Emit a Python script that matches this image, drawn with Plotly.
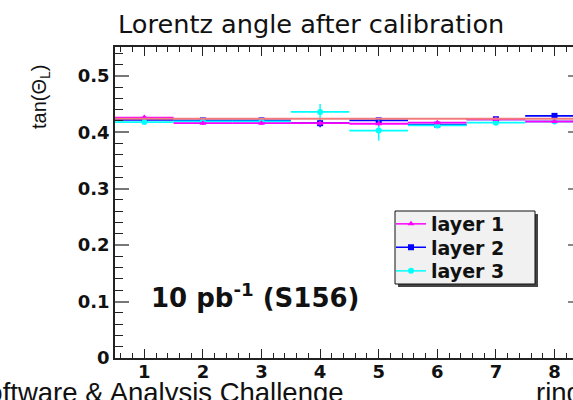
import plotly.graph_objects as go

# Lorentz angle per ring, one series per layer
RINGS = [1, 2, 3, 4, 5, 6, 7, 8]
LAYER1 = [0.426, 0.416, 0.416, 0.416, 0.415, 0.417, 0.423, 0.419]
LAYER1_ERR = [0.003, 0.003, 0.003, 0.004, 0.003, 0.003, 0.003, 0.003]
LAYER2 = [0.422, 0.421, 0.421, 0.416, 0.421, 0.4135, 0.423, 0.429]
LAYER2_ERR = [0.003, 0.003, 0.003, 0.007, 0.003, 0.003, 0.003, 0.003]
LAYER3 = [0.418, 0.419, 0.419, 0.436, 0.403, 0.412, 0.417, 0.419]
LAYER3_ERR = [0.003, 0.003, 0.003, 0.014, 0.018, 0.005, 0.003, 0.003]
BIN_HALF_WIDTH = 0.5
FIT_VALUE = 0.424
TICKS_Y = [0.0, 0.1, 0.2, 0.3, 0.4, 0.5]
TICK_TEXT_Y = ["0", "0.1", "0.2", "0.3", "0.4", "0.5"]

W, H = 573, 400
ML, MR, MT, MB = 115, 0, 47, 42
PW, PH = W - ML - MR, H - MT - MB


def fx(p):
    return (p - ML) / PW


def fy(p):
    return (H - MB - p) / PH


def gapped(values):
    # isolate each point so no connecting line is drawn between rings
    out = []
    for i, v in enumerate(values):
        if i:
            out.append(None)
        out.append(v)
    return out


fig = go.Figure()

# constant fit across all rings (on the mirrored right axis)
fig.add_trace(go.Scatter(
    x=[0.5, 8.5], y=[FIT_VALUE, FIT_VALUE], yaxis="y2", mode="lines",
    line=dict(color="#f27c7c", width=2), showlegend=False, hoverinfo="skip"))

# drawing order: layer 2, layer 3, layer 1 on top; each has its own legend row
layers = [
    ("layer 2", LAYER2, LAYER2_ERR, "#0000ff", "square", "legend2"),
    ("layer 3", LAYER3, LAYER3_ERR, "#00ffff", "circle", "legend3"),
    ("layer 1", LAYER1, LAYER1_ERR, "#ff00ff", "triangle-up", "legend"),
]
for name, vals, errs, color, symbol, leg in layers:
    fig.add_trace(go.Scatter(
        x=gapped(RINGS), y=gapped(vals), name=name, legend=leg,
        mode="lines+markers", connectgaps=False,
        line=dict(color=color, width=1.5),
        marker=dict(color=color, symbol=symbol, size=6),
        error_x=dict(type="constant", value=BIN_HALF_WIDTH, color=color,
                     thickness=1.8, width=0),
        error_y=dict(type="data", array=gapped(errs), color=color,
                     thickness=1.5, width=0),
    ))

tick_font = dict(family="DejaVu Sans", size=18, color="#111", weight="bold")
legend_font = dict(family="DejaVu Sans", size=19, color="#111", weight="bold")


def legend_row(center_y):
    return dict(x=fx(391), y=fy(center_y), xanchor="left", yanchor="middle",
                bgcolor="rgba(0,0,0,0)", borderwidth=0, font=legend_font)


fig.update_layout(
    width=W, height=H,
    margin=dict(l=ML, r=MR, t=MT, b=MB, pad=0),
    paper_bgcolor="white", plot_bgcolor="white",
    xaxis=dict(
        range=[0.5, 0.5 + PW / 58.6], showgrid=False, zeroline=False,
        showline=True, linecolor="#222", linewidth=1.5, mirror="ticks",
        ticks="inside", ticklen=9, tickwidth=1, tickcolor="#222",
        tick0=0, dtick=1, tickfont=tick_font, ticklabelstandoff=-3,
        minor=dict(ticks="inside", ticklen=5, tick0=0, dtick=0.2,
                   tickcolor="#222", tickwidth=1, showgrid=False),
    ),
    yaxis=dict(
        range=[0, 0.551], showgrid=False, zeroline=False,
        showline=True, linecolor="#222", linewidth=1.5, mirror=False,
        ticks="inside", ticklen=14, tickwidth=2, tickcolor="#777",
        tickvals=TICKS_Y, ticktext=TICK_TEXT_Y, tickfont=tick_font,
        minor=dict(ticks="inside", ticklen=8, tick0=0, dtick=0.02,
                   tickcolor="#222", tickwidth=1, showgrid=False),
    ),
    yaxis2=dict(
        range=[0, 0.551], overlaying="y", side="right", showgrid=False,
        zeroline=False, showline=False, ticks="inside", ticklen=5,
        tickwidth=2, tickcolor="#888", tickvals=TICKS_Y,
        showticklabels=False,
    ),
    legend=legend_row(224),
    legend2=legend_row(247.5),
    legend3=legend_row(271),
    showlegend=True,
)

# legend frame with drop shadow
fig.add_shape(type="rect", xref="paper", yref="paper",
              x0=fx(398), x1=fx(538), y0=fy(287), y1=fy(214),
              fillcolor="#444", line=dict(width=0), layer="above")
fig.add_shape(type="rect", xref="paper", yref="paper",
              x0=fx(395), x1=fx(535), y0=fy(284), y1=fy(211),
              fillcolor="#f1f1f1", line=dict(color="#111", width=1),
              layer="above")

fig.add_annotation(text="Lorentz angle after calibration", xref="paper",
                   yref="paper", x=fx(116), y=fy(24.5), xanchor="left",
                   yanchor="middle", showarrow=False,
                   font=dict(family="DejaVu Sans", size=25.6, color="#111"))
fig.add_annotation(text="tan(Θ<sub>L</sub>)", xref="paper", yref="paper",
                   x=fx(41), y=fy(97), xanchor="center", yanchor="middle",
                   textangle=-90, showarrow=False,
                   font=dict(family="Liberation Sans", size=20, color="#111"))
fig.add_annotation(text="10 pb<sup>-1</sup> (S156)", xref="paper",
                   yref="paper", x=fx(149), y=fy(296), xanchor="left",
                   yanchor="middle", showarrow=False,
                   font=dict(family="DejaVu Sans", size=26, color="#111",
                             weight="bold"))
fig.add_annotation(text="Software & Analysis Challenge", xref="paper",
                   yref="paper", x=fx(346), y=fy(392), xanchor="right",
                   yanchor="middle", showarrow=False,
                   font=dict(family="Liberation Sans", size=27.5,
                             color="#111"))
fig.add_annotation(text="ring", xref="paper", yref="paper", x=fx(534),
                   y=fy(392), xanchor="left", yanchor="middle",
                   showarrow=False,
                   font=dict(family="Liberation Sans", size=27.5,
                             color="#111"))

fig.write_html("out.html")
